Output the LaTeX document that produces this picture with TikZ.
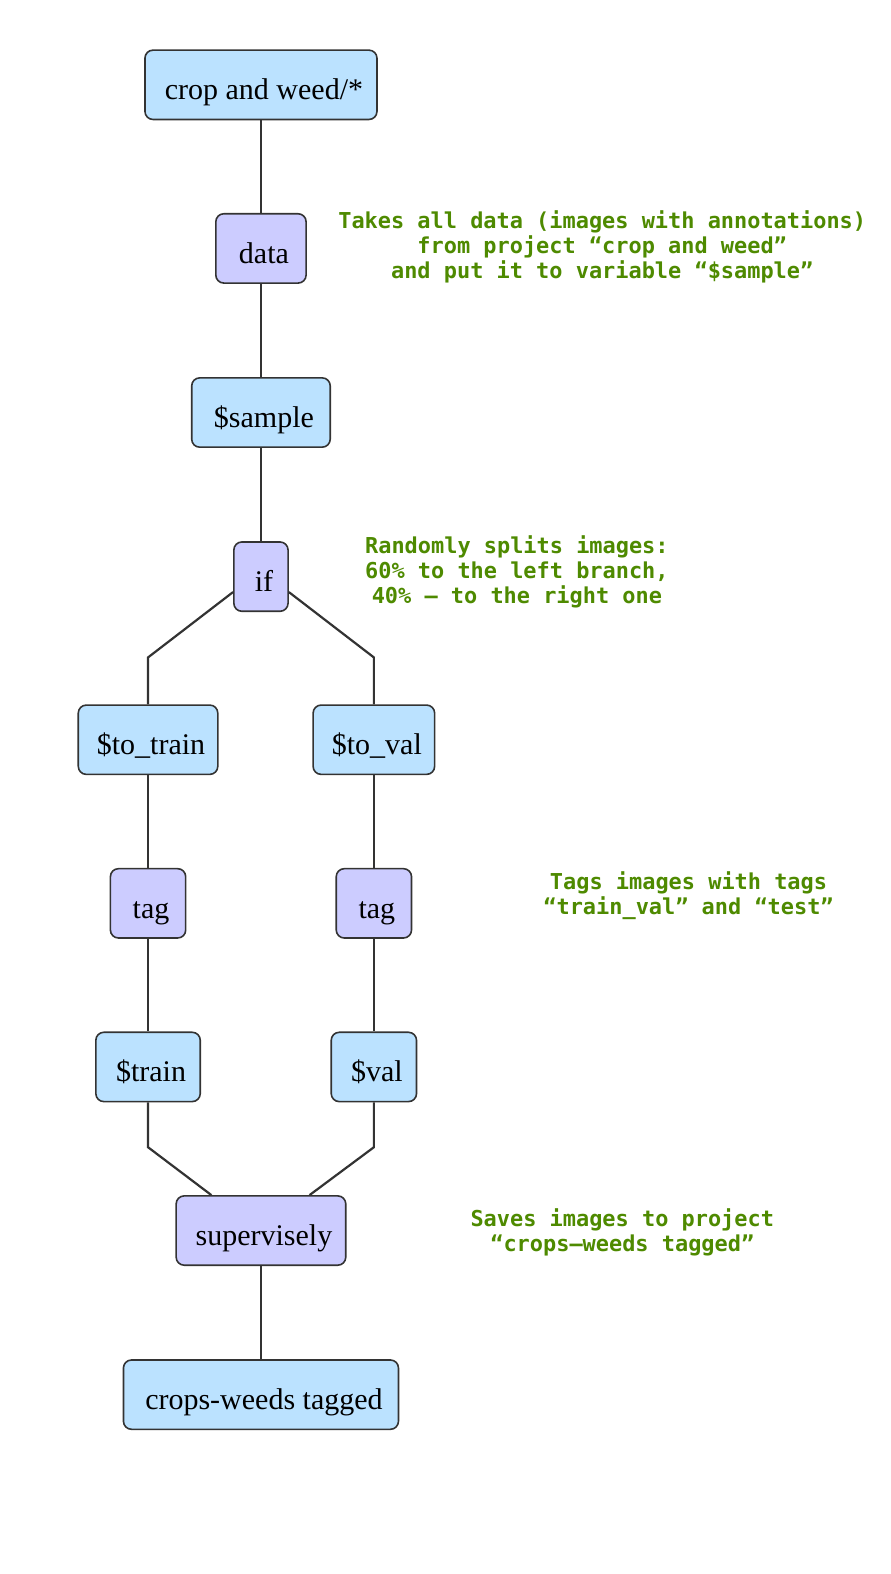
\documentclass[tikz,border=0pt]{standalone}
\usepackage{fontspec}
\setmainfont{Liberation Serif}
\newfontfamily\annfont{DejaVu Sans Mono}
\definecolor{boxblue}{HTML}{BBE2FF}
\definecolor{boxpurple}{HTML}{CCCCFF}
\definecolor{edgegray}{HTML}{333333}
\definecolor{anngreen}{HTML}{4E8A00}
\begin{document}
\begin{tikzpicture}[x=1.0037bp,y=-1.0037bp,
  base/.style={draw=edgegray, line width=1.6bp, rounded corners=8bp, inner sep=0pt,
    text height=30bp, text depth=0pt, font=\fontsize{30bp}{34bp}\selectfont, minimum height=69.3bp},
  dbox/.style={base, fill=boxblue},
  opbox/.style={base, fill=boxpurple},
  conn/.style={draw=edgegray, line width=2.2bp},
  ann/.style={text=anngreen, align=center, font=\annfont\bfseries\fontsize{22}{25.1bp}\selectfont}]
\useasboundingbox (0,0) rectangle (887.7,1568.2);
\node[dbox, minimum width=232bp] (crop) at (260,84.5) {\hspace*{6bp}crop and weed/*};
\node[opbox, minimum width=90.3bp] (data) at (260,247.5) {\hspace*{6bp}data};
\node[dbox, minimum width=138.5bp] (sample) at (260,411) {\hspace*{6bp}\$sample};
\node[opbox, minimum width=54.2bp] (if) at (260,574.5) {\hspace*{6bp}if};
\node[dbox, minimum width=139.5bp] (totrain) at (147.5,737) {\hspace*{6bp}\$to\_train};
\node[dbox, minimum width=121.5bp] (toval) at (372.5,737) {\hspace*{6bp}\$to\_val};
\node[opbox, minimum width=75.3bp] (tagl) at (147.5,900) {\hspace*{6bp}tag};
\node[opbox, minimum width=75.3bp] (tagr) at (372.5,900) {\hspace*{6bp}tag};
\node[dbox, minimum width=104.4bp] (train) at (147.5,1063) {\hspace*{6bp}\$train};
\node[dbox, minimum width=85.3bp] (val) at (372.5,1063) {\hspace*{6bp}\$val};
\node[opbox, minimum width=169.6bp] (sup) at (260,1226) {\hspace*{6bp}supervisely};
\node[dbox, minimum width=275bp] (out) at (260,1389.5) {\hspace*{6bp}crops-weeds tagged};

\coordinate (ifl) at (147.5,655);
\coordinate (ifr) at (372.5,655);
\coordinate (trl) at (147.5,1143);
\coordinate (vlr) at (372.5,1143);

\draw[conn] (crop.south) -- (data.north);
\draw[conn] (data.south) -- (sample.north);
\draw[conn] (sample.south) -- (if.north);
\draw[conn] ([yshift=20bp]if.south west) -- (ifl) -- (totrain.north);
\draw[conn] ([yshift=20bp]if.south east) -- (ifr) -- (toval.north);
\draw[conn] (totrain.south) -- (tagl.north);
\draw[conn] (toval.south) -- (tagr.north);
\draw[conn] (tagl.south) -- (train.north);
\draw[conn] (tagr.south) -- (val.north);
\draw[conn] (train.south) -- (trl) -- ([xshift=36bp]sup.north west);
\draw[conn] (val.south) -- (vlr) -- ([xshift=-37bp]sup.north east);
\draw[conn] (sup.south) -- (out.north);

\node[ann] (a1) at (600,246) {Takes all data (images with annotations)\\from project “crop and weed”\\and put it to variable “\$sample”};
\node[ann] (a2) at (515,570) {Randomly splits images:\\60\% to the left branch,\\40\% – to the right one};
\node[ann] (a3) at (686,892) {Tags images with tags\\“train\_val” and “test”};
\node[ann] (a4) at (620,1228) {Saves images to project\\“crops–weeds tagged”};
\end{tikzpicture}
\end{document}
